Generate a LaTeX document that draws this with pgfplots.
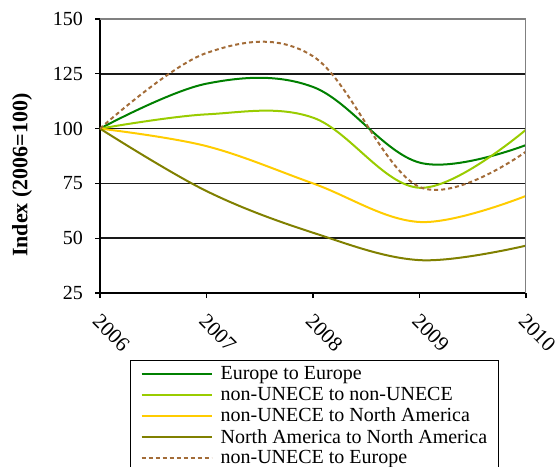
\documentclass[border=0pt]{standalone}
\usepackage{pgfplots}
\pgfplotsset{compat=1.18}
\usepackage{fontspec}
\setmainfont{Liberation Serif}
\definecolor{cEE}{RGB}{0,128,0}
\definecolor{cNN}{RGB}{153,204,0}
\definecolor{cNA}{RGB}{255,204,0}
\definecolor{cAA}{RGB}{128,128,0}
\definecolor{cNE}{RGB}{163,108,56}
\begin{document}
\begin{tikzpicture}
\begin{axis}[
  at={(0,0)}, anchor=south west,
  scale only axis, width=426pt, height=274pt,
  xmin=2006, xmax=2010, ymin=25, ymax=150,
  xtick={2006,2007,2008,2009,2010},
  ytick={25,50,75,100,125,150},
  xticklabels={2006,2007,2008,2009,2010},
  axis x line*=bottom, axis y line*=left,
  axis line style={black, line width=1.6pt, -},
  tick align=outside, major tick length=5pt,
  tick style={black, line width=1.2pt},
  ymajorgrids, major grid style={black!90, line width=1.5pt},
  /pgf/number format/assume math mode=true,
  tick label style={font=\fontsize{20}{22}\selectfont},
  xticklabel shift=12pt,
  xticklabel style={font=\fontsize{21}{22}\selectfont, rotate=-45, anchor=north west, inner sep=1pt, xshift=2pt},
  yticklabel style={inner sep=0pt, xshift=-12pt},
  ylabel={\textbf{Index (2006=100)}},
  ylabel style={font=\fontsize{22}{24}\selectfont, at={(axis description cs:-0.183,0.43)}, anchor=center},
  legend style={at={(axis description cs:0.0704,-0.2445)}, anchor=north west,
    draw=black, line width=1.2pt, font=\fontsize{20}{21}\selectfont,
    inner xsep=10pt, inner ysep=5pt, row sep=4pt, column sep=7pt,
    nodes={inner sep=1pt}},
  legend cell align=left,
  legend image code/.code={\draw[#1, line width=2pt] (0pt,0pt) -- (70pt,0pt);},
  every axis plot/.append style={line width=2pt, smooth, tension=0.6},
]
\addplot[cEE] coordinates {(2006,100) (2007,120.5) (2008,119) (2009,84.5) (2010,92.5)};
\addlegendentry{Europe to Europe}
\addplot[cNN] coordinates {(2006,100) (2007,106.5) (2008,105) (2009,73) (2010,99.5)};
\addlegendentry{non-UNECE to non-UNECE}
\addplot[cNA] coordinates {(2006,100) (2007,92) (2008,75) (2009,57.4) (2010,69.3)};
\addlegendentry{non-UNECE to North America}
\addplot[cAA] coordinates {(2006,100) (2007,71.5) (2008,52.5) (2009,40) (2010,46.6)};
\addlegendentry{North America to North America}
\addplot[cNE, dash pattern=on 4pt off 3pt] coordinates {(2006,100) (2007,134.5) (2008,133) (2009,73.4) (2010,89.5)};
\addlegendentry{non-UNECE to Europe}
\draw[gray, line width=1.5pt] (rel axis cs:0,1) -- (rel axis cs:1,1) -- (rel axis cs:1,0);
\end{axis}
\pgfresetboundingbox
\path[use as bounding box] (-100pt,-173pt) rectangle (457pt,293pt);
\end{tikzpicture}
\end{document}
